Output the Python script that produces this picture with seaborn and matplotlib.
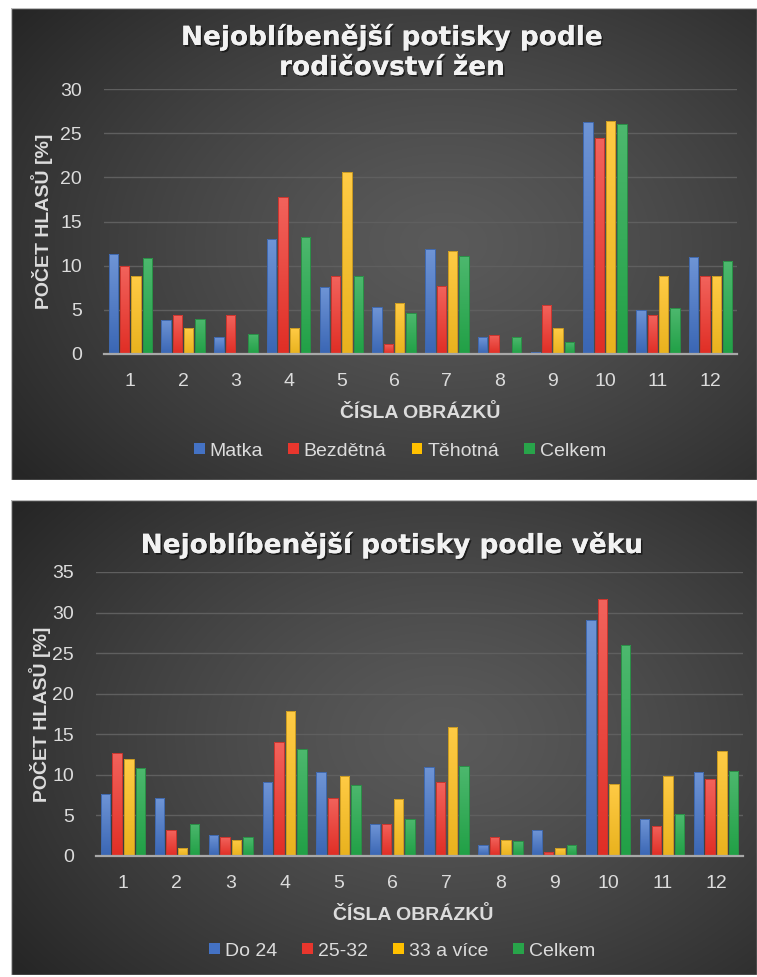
import numpy as np
import pandas as pd
import matplotlib
matplotlib.use("Agg")
import matplotlib.pyplot as plt
import matplotlib.patheffects as pe
from matplotlib.patches import Patch, Rectangle
from matplotlib.colors import to_rgb
import seaborn as sns

# ---------------- data ----------------
obrazky = [str(i) for i in range(1, 13)]

matka = [11.3, 3.9, 1.9, 13.0, 7.6, 5.3, 11.9, 1.9, 0.2, 26.3, 5.0, 11.0]
bezdetna = [10.0, 4.4, 4.4, 17.8, 8.8, 1.1, 7.7, 2.2, 5.5, 24.4, 4.4, 8.8]
tehotna = [8.8, 2.9, 0.0, 2.9, 20.6, 5.8, 11.7, 0.0, 2.9, 26.4, 8.8, 8.8]
celkem = [10.9, 4.0, 2.3, 13.2, 8.8, 4.6, 11.1, 1.9, 1.4, 26.0, 5.2, 10.5]

do24 = [7.7, 7.1, 2.6, 9.1, 10.3, 3.9, 11.0, 1.3, 3.2, 29.1, 4.5, 10.3]
vek25_32 = [12.7, 3.2, 2.3, 14.1, 7.2, 4.0, 9.1, 2.3, 0.5, 31.7, 3.7, 9.5]
vek33 = [11.9, 1.0, 2.0, 17.9, 9.9, 7.0, 15.9, 2.0, 1.0, 8.9, 9.9, 12.9]

serie_rodic = ["Matka", "Bezdětná", "Těhotná", "Celkem"]
serie_vek = ["Do 24", "25-32", "33 a více", "Celkem"]

title_rodic = "Nejoblíbenější potisky podle\nrodičovství žen"
title_vek = "Nejoblíbenější potisky podle věku"
ylabel = "POČET HLASŮ [%]"
xlabel = "ČÍSLA OBRÁZKŮ"

# ---------------- style ----------------
base_cols = ["#4472C4", "#E8362D", "#FFC000", "#28A44A"]
top_cols = ["#6F95D6", "#F2635C", "#FFCB45", "#4DB86E"]
bot_cols = ["#3A66B4", "#E02E25", "#E9B21E", "#21A046"]
edge_cols = ["#3F68AD", "#C9352E", "#C99A22", "#2A8E46"]

TXT = "#DCDCDC"
W, H = 757, 977
plt.rcParams["font.family"] = ["Liberation Sans", "DejaVu Sans"]

fig = plt.figure(figsize=(W / 100, H / 100), dpi=100, facecolor="white")


def fx(px):
    return px / W


def fy(py):
    return 1 - py / H


def panel_background(x0, y0, x1, y1):
    bg = fig.add_axes([fx(x0), fy(y1), fx(x1 - x0), (y1 - y0) / H], zorder=0)
    pw, ph = x1 - x0, y1 - y0
    ny, nx = 240, 380
    yy, xx = np.mgrid[0:ny, 0:nx]
    xs = xx / (nx - 1) * pw
    ys = yy / (ny - 1) * ph
    cx, cy = 0.58 * pw, 0.50 * ph
    r = np.sqrt(((xs - cx) / 540) ** 2 + ((ys - cy) / 380) ** 2)
    r = np.clip(r, 0, 1) ** 1.3
    c0, c1 = 0x5A / 255, 0x26 / 255
    v = c0 + (c1 - c0) * r
    img = np.dstack([v, v, v])
    bg.imshow(img, extent=[0, 1, 0, 1], aspect="auto", interpolation="bicubic")
    bg.add_patch(Rectangle((0, 0), 1, 1, transform=bg.transAxes, fill=False,
                           edgecolor="#BDBDBD", lw=1.0))
    bg.set_xlim(0, 1)
    bg.set_ylim(0, 1)
    bg.axis("off")
    return bg


def gradient_bars(ax, n_series, n_groups, ymax):
    bars = [p for p in ax.patches if isinstance(p, Rectangle)]
    for i, p in enumerate(bars):
        s = i // n_groups
        h = p.get_height()
        if h <= 0:
            p.set_visible(False)
            continue
        x0 = p.get_x()
        w = p.get_width()
        t = np.array(to_rgb(top_cols[s]))
        b = np.array(to_rgb(bot_cols[s]))
        k = np.linspace(0, 1, 64)[:, None]
        grad = (t * (1 - k) + b * k)[:, None, :]
        im = ax.imshow(grad, extent=(x0, x0 + w, 0, h), origin="upper",
                       aspect="auto", interpolation="bilinear", zorder=2)
        im.set_clip_path(p)
        p.set_facecolor("none")
        p.set_edgecolor(edge_cols[s])
        p.set_linewidth(0.7)
        p.set_zorder(3)
    ax.set_xlim(-0.5, n_groups - 0.5)
    ax.set_ylim(0, ymax)


def chart(rect_px, series_names, values, ymax, title, title_y, ylab_x, xlab_xy,
          legend_xy):
    x0, y0, x1, y1 = rect_px
    ax = fig.add_axes([fx(x0), fy(y1), fx(x1 - x0), (y1 - y0) / H], zorder=1)
    ax.set_facecolor("none")
    df = pd.DataFrame({
        "obr": obrazky * len(series_names),
        "skupina": np.repeat(series_names, len(obrazky)),
        "hodnota": np.concatenate(values),
    })
    sns.barplot(data=df, x="obr", y="hodnota", hue="skupina",
                order=obrazky, hue_order=series_names,
                palette=base_cols, width=0.86, gap=0.18,
                legend=False, ax=ax)
    gradient_bars(ax, len(series_names), len(obrazky), ymax)

    ax.set_yticks(np.arange(0, ymax + 1, 5))
    ax.yaxis.grid(True, color="#5F5F5F", lw=1.0)
    ax.set_axisbelow(True)
    for side in ("top", "right", "left"):
        ax.spines[side].set_visible(False)
    ax.spines["bottom"].set_color("#A8A8A8")
    ax.spines["bottom"].set_linewidth(1.6)
    ax.spines["bottom"].set_zorder(4)
    ax.tick_params(axis="both", length=0, labelsize=14, colors=TXT)
    ax.tick_params(axis="x", pad=14)
    ax.tick_params(axis="y", pad=16)

    ax.set_xlabel(xlabel, fontsize=14, fontweight="bold", color=TXT)
    ax.xaxis.label.set_va("center")
    ax.xaxis.set_label_coords((xlab_xy[0] - x0) / (x1 - x0),
                              (y1 - xlab_xy[1]) / (y1 - y0))
    ax.set_ylabel(ylabel, fontsize=14, fontweight="bold", color=TXT)
    ax.yaxis.label.set_va("center")
    ax.yaxis.set_label_coords((ylab_x - x0) / (x1 - x0), 0.5)

    fig.text(fx(392), fy(title_y), title, ha="center", va="center",
             fontsize=19, fontweight="bold", color="#F2F2F2",
             family="DejaVu Sans", linespacing=1.2,
             path_effects=[pe.withSimplePatchShadow(offset=(1.2, -1.2),
                                                    shadow_rgbFace="black",
                                                    alpha=0.55),
                           pe.Normal()])

    handles = [Patch(facecolor=c, edgecolor="none") for c in base_cols]
    fig.legend(handles, series_names, loc="center",
               bbox_to_anchor=(fx(legend_xy[0]), fy(legend_xy[1])),
               ncol=4, frameon=False, fontsize=14, labelcolor=TXT,
               handlelength=0.55, handleheight=0.55, handletextpad=0.25,
               columnspacing=1.3)
    return ax


panel_background(11, 8, 757, 480)
panel_background(11, 500, 757, 975)

chart((104, 89, 737, 354), serie_rodic, [matka, bezdetna, tehotna, celkem],
      30, title_rodic, 52, 42, (420, 413), (400, 451))
chart((96, 572, 743, 856), serie_vek, [do24, vek25_32, vek33, celkem],
      35, title_vek, 545, 40, (413, 915), (402, 951))

fig.savefig("out.png", dpi=100, facecolor="white")
